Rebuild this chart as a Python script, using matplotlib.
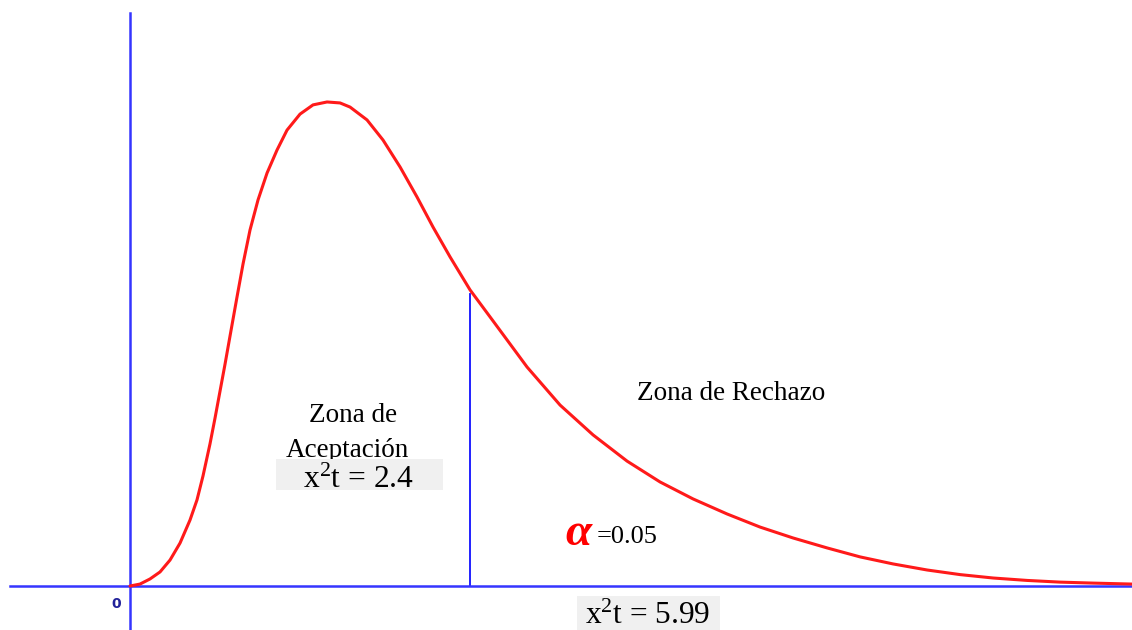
import numpy as np
import matplotlib.pyplot as plt
from matplotlib.patches import Rectangle

plt.rcParams['mathtext.fontset'] = 'custom'
plt.rcParams['mathtext.rm'] = 'Liberation Serif'
plt.rcParams['mathtext.it'] = 'Liberation Serif:italic'

# curve (x in chi-square units, y density-like)
curve_x = [0.0, 0.176, 0.352, 0.529, 0.705, 0.881, 1.057, 1.180, 1.286, 1.409,
           1.498, 1.586, 1.674, 1.762, 1.885, 1.991, 2.114, 2.255, 2.414, 2.590,
           2.766, 2.995, 3.224, 3.471, 3.700, 3.876, 4.175, 4.457, 4.757, 5.056,
           5.338, 5.638, 5.99, 6.395, 6.994, 7.576, 8.157, 8.756, 9.337, 9.919,
           10.518, 11.099, 11.681, 12.280, 12.861, 13.442, 14.042, 14.623, 15.204,
           15.803, 16.385, 16.966, 17.653]
curve_y = [0.0, 0.0008, 0.0029, 0.0058, 0.0107, 0.0177, 0.0272, 0.0355, 0.0454,
           0.0586, 0.0693, 0.0804, 0.0915, 0.1031, 0.1192, 0.1328, 0.1468, 0.1592,
           0.1703, 0.1798, 0.1880, 0.1946, 0.1984, 0.1996, 0.1992, 0.1975, 0.1922,
           0.1839, 0.1728, 0.1604, 0.1480, 0.1357, 0.1221, 0.1093, 0.0903, 0.0746,
           0.0623, 0.0515, 0.0429, 0.0359, 0.0297, 0.0243, 0.0198, 0.0157, 0.0120,
           0.0091, 0.0066, 0.0047, 0.0033, 0.0023, 0.0016, 0.0012, 0.0008]

x_crit = 5.99
y_crit = 0.1205
alpha = 0.05
x_calc = 2.4

W, H = 1132, 630
fig = plt.figure(figsize=(W / 100, H / 100), dpi=100)
ax = fig.add_axes([0, 0, 1, 1])
ax.set_xlim(-2.29, 17.65)
ax.set_ylim(-0.01814, 0.24165)
ax.axis('off')
tf = fig.transFigure


def fx(px):
    return px / W


def fy(py):
    return 1 - py / H


axis_col = '#3535ff'
# axes lines
ax.plot([-2.11, 17.65], [0, 0], color=axis_col, lw=1.8, zorder=3)
ax.plot([0, 0], [-0.0186, 0.2363], color=axis_col, lw=1.8, zorder=3)
ax.text(fx(116), fy(604), '0', transform=tf, fontsize=10, fontweight='bold',
        color='#22229a', ha='center', va='center', family='DejaVu Sans')

# critical value line
ax.plot([x_crit, x_crit], [0, y_crit], color='#1010ff', lw=1.3, zorder=2)

# chi-square curve
ax.plot(curve_x, curve_y, color='#ff1a1a', lw=2.2, zorder=4,
        solid_joinstyle='round', solid_capstyle='round')

serif = 'Liberation Serif'
fs = 19.5
ax.text(fx(353), fy(422), 'Zona de', transform=tf, fontsize=fs, family=serif,
        ha='center', va='baseline', zorder=4)
ax.text(fx(347), fy(457), 'Aceptación', transform=tf, fontsize=fs, family=serif,
        ha='center', va='baseline', zorder=4)
ax.text(fx(731), fy(400), 'Zona de Rechazo', transform=tf, fontsize=fs,
        family=serif, ha='center', va='baseline', zorder=4)

ax.add_patch(Rectangle((fx(276), fy(490)), 167 / W, 31 / H, transform=tf,
                       facecolor='#f0f0f0', edgecolor='none', zorder=5))
ax.text(fx(303), fy(488), 'x$^{2}$t = %s' % x_calc, transform=tf,
        fontsize=22.7, family=serif, ha='left', va='baseline', zorder=6)

ax.add_patch(Rectangle((fx(577), 0), 143 / W, 34 / H, transform=tf,
                       facecolor='#f0f0f0', edgecolor='none', zorder=5))
ax.text(fx(585), fy(624), 'x$^{2}$t = %s' % x_crit, transform=tf,
        fontsize=22.6, family=serif, ha='left', va='baseline', zorder=6)

ax.text(fx(578), fy(545), 'α', transform=tf, fontsize=34, family=serif,
        style='italic', fontweight='bold', color='#ff0000',
        ha='center', va='baseline')
ax.text(fx(597), fy(543), '=%s' % alpha, transform=tf, fontsize=19,
        family=serif, ha='left', va='baseline')

fig.savefig('out.png', dpi=100)
